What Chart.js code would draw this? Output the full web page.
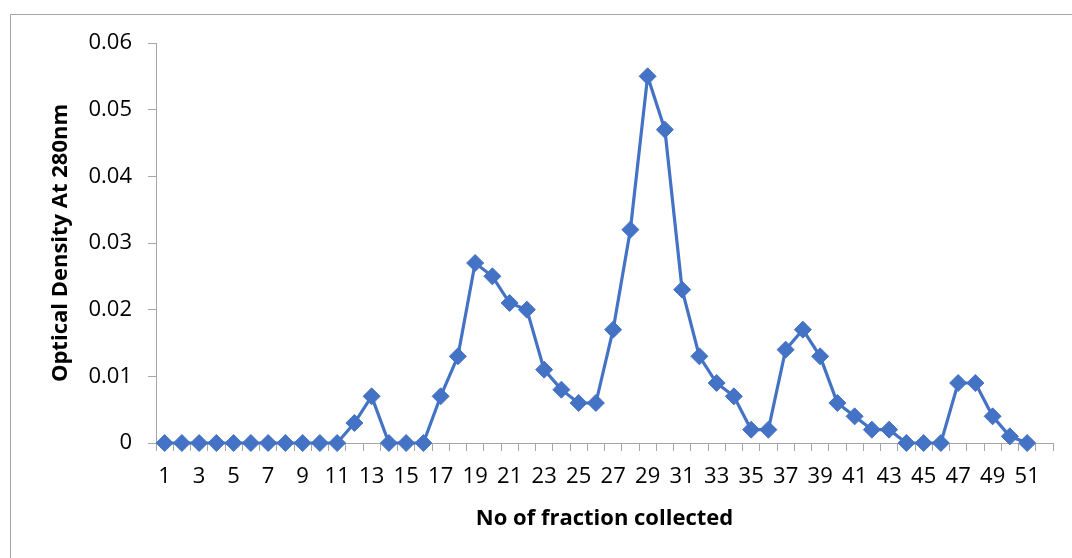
<!DOCTYPE html>
<html>
<head>
<meta charset="utf-8">
<script src="https://cdn.jsdelivr.net/npm/chart.js@4"></script>
<style>
  html, body { margin: 0; padding: 0; background: #fff; overflow: hidden; }
  #wrap { position: relative; width: 1072px; height: 558px; }
  #frame { position: absolute; left: 10px; top: 14px; width: 1100px; height: 600px; border: 1px solid #a6a6a6; box-sizing: border-box; }
  canvas { position: absolute; left: 0; top: 0; }
</style>
</head>
<body>
<div id="wrap">
  <div id="frame"></div>
  <canvas id="c" width="1072" height="558"></canvas>
</div>
<script>
// Fraction numbers (category 52 is an empty slot on the axis)
const fractions = Array.from({length: 52}, (_, i) => String(i + 1));
// Optical density at 280 nm, fractions 1..51
const opticalDensity = [
  0, 0, 0, 0, 0, 0, 0, 0, 0, 0,
  0, 0.003, 0.007, 0, 0, 0, 0.007, 0.013, 0.027, 0.025,
  0.021, 0.020, 0.011, 0.008, 0.006, 0.006, 0.017, 0.032, 0.055, 0.047,
  0.023, 0.013, 0.009, 0.007, 0.002, 0.002, 0.014, 0.017, 0.013, 0.006,
  0.004, 0.002, 0.002, 0, 0, 0, 0.009, 0.009, 0.004, 0.001,
  0
];
const yTicks = [0, 0.01, 0.02, 0.03, 0.04, 0.05, 0.06];
const xTitle = 'No of fraction collected';
const yTitle = 'Optical Density At 280nm';

const FONT = "'Open Sans', 'Liberation Sans', sans-serif";
const AXIS = '#a6a6a6';
const BLUE = '#4472C4';

new Chart(document.getElementById('c'), {
  type: 'line',
  data: {
    labels: fractions,
    datasets: [{
      data: opticalDensity,
      borderColor: BLUE,
      backgroundColor: BLUE,
      borderWidth: 3.2,
      pointStyle: 'rectRot',
      pointRadius: 8.5,
      pointHoverRadius: 8.5,
      pointBorderWidth: 1,
      pointBorderColor: BLUE,
      pointBackgroundColor: BLUE,
      tension: 0,
      clip: false
    }]
  },
  options: {
    responsive: false,
    animation: false,
    devicePixelRatio: 1,
    layout: { padding: { left: 0, top: 43, right: 19, bottom: 0 } },
    plugins: { legend: { display: false }, tooltip: { enabled: false } },
    scales: {
      x: {
        type: 'category',
        offset: true,
        grid: { offset: true, drawOnChartArea: false, color: AXIS, tickLength: 8, lineWidth: 1 },
        border: { color: AXIS, width: 1 },
        ticks: {
          autoSkip: false,
          maxRotation: 0,
          minRotation: 0,
          padding: 13,
          color: '#000',
          font: { family: FONT, size: 22 },
          callback: function (v, i) { return i % 2 === 0 ? this.getLabelForValue(v) : ''; }
        },
        title: {
          display: true, text: xTitle, color: '#000',
          font: { family: FONT, size: 22, weight: 'bold' },
          padding: { top: 0, bottom: 26 }
        },
        afterFit: s => { s.height = 115; }
      },
      y: {
        min: 0,
        max: 0.06,
        afterBuildTicks: s => { s.ticks = yTicks.map(v => ({ value: v })); },
        grid: { drawOnChartArea: false, color: AXIS, tickLength: 8, lineWidth: 1 },
        border: { color: AXIS, width: 1 },
        ticks: {
          padding: 16,
          color: '#000',
          font: { family: FONT, size: 22 },
          callback: v => v === 0 ? '0' : Number(v).toFixed(2)
        },
        title: {
          display: true, text: yTitle, color: '#000',
          font: { family: FONT, size: 22, weight: 'bold' },
          padding: { top: 48, bottom: 0 }
        },
        afterFit: s => { s.width = 156; }
      }
    }
  }
});
</script>
</body>
</html>
